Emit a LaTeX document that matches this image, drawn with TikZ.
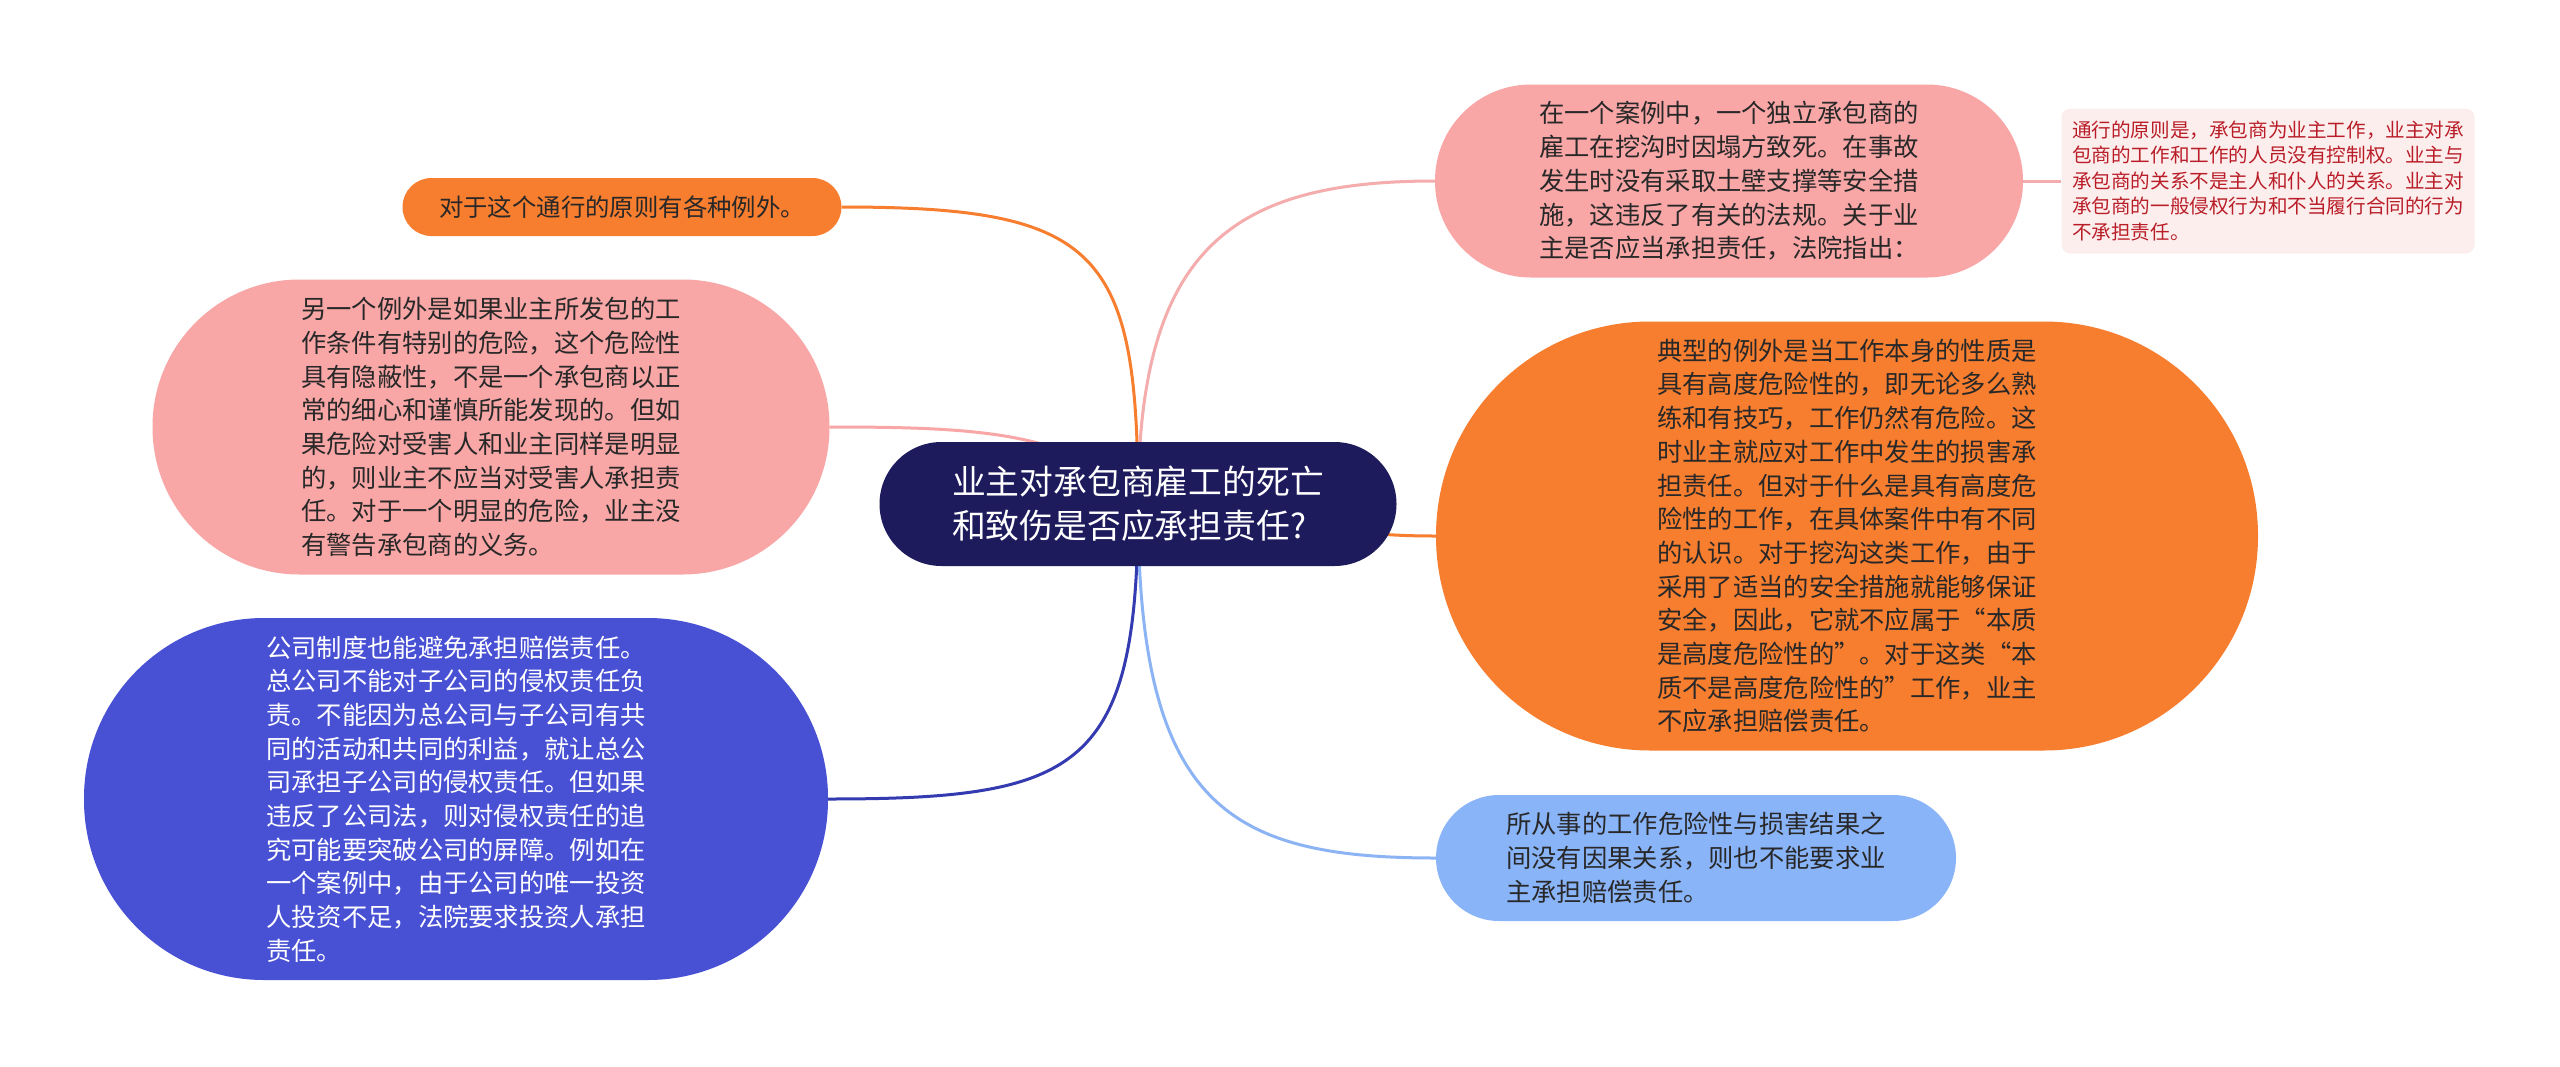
\documentclass[tikz,border=0pt]{standalone}
\usepackage{fontspec}
\setmainfont{Noto Sans CJK SC}
\usetikzlibrary{backgrounds}
\definecolor{rootc}{RGB}{29,27,92}
\definecolor{orangec}{RGB}{247,125,47}
\definecolor{pinkc}{RGB}{248,166,166}
\definecolor{pinkline}{RGB}{244,172,172}
\definecolor{indigoc}{RGB}{72,80,212}
\definecolor{indigoline}{RGB}{52,58,175}
\definecolor{lbluec}{RGB}{138,180,248}
\definecolor{lblueline}{RGB}{140,180,245}
\definecolor{notefill}{RGB}{253,238,238}
\definecolor{notetext}{RGB}{185,30,40}
\definecolor{txt}{RGB}{40,40,40}
\begin{document}
\begin{tikzpicture}[x=1pt,y=-1pt,
  box/.style={inner sep=0pt, align=left, text=txt},
  body/.style={font=\fontsize{25.3}{33.7}\selectfont},
  conn/.style={line width=3pt},
]
\useasboundingbox (0,0) rectangle (2560,1066);

% root
\node[box, fill=rootc, text=white, minimum width=517pt, minimum height=124pt,
      rounded corners=62pt, font=\fontsize{33.8}{44}\selectfont]
  (root) at (1138,504) {业主对承包商雇工的死亡\\和致伤是否应承担责任?};

% top-left orange
\node[box, fill=orangec, minimum width=439pt, minimum height=58pt,
      rounded corners=29pt, font=\fontsize{24.4}{32}\selectfont]
  (exc) at (622,207) {对于这个通行的原则有各种例外。};

% left pink
\node[box, body, fill=pinkc, minimum width=677pt, minimum height=295pt,
      rounded corners=147pt]
  (hidden) at (491,427) {另一个例外是如果业主所发包的工\\作条件有特别的危险，这个危险性\\具有隐蔽性，不是一个承包商以正\\常的细心和谨慎所能发现的。但如\\果危险对受害人和业主同样是明显\\的，则业主不应当对受害人承担责\\任。对于一个明显的危险，业主没\\有警告承包商的义务。};

% bottom-left indigo
\node[box, body, fill=indigoc, text=white, minimum width=744pt, minimum height=362pt,
      rounded corners=180pt]
  (company) at (456,799) {公司制度也能避免承担赔偿责任。\\总公司不能对子公司的侵权责任负\\责。不能因为总公司与子公司有共\\同的活动和共同的利益，就让总公\\司承担子公司的侵权责任。但如果\\违反了公司法，则对侵权责任的追\\究可能要突破公司的屏障。例如在\\一个案例中，由于公司的唯一投资\\人投资不足，法院要求投资人承担\\责任。};

% top-right pink
\node[box, body, fill=pinkc, minimum width=588pt, minimum height=193pt,
      rounded corners=96pt]
  (case) at (1729,181) {在一个案例中，一个独立承包商的\\雇工在挖沟时因塌方致死。在事故\\发生时没有采取土壁支撑等安全措\\施，这违反了有关的法规。关于业\\主是否应当承担责任，法院指出：};

% note
\node[box, fill=notefill, text=notetext, minimum width=413pt, minimum height=145pt,
      rounded corners=9pt, font=\fontsize{19.6}{25.5}\selectfont]
  (note) at (2268,181) {通行的原则是，承包商为业主工作，业主对承\\包商的工作和工作的人员没有控制权。业主与\\承包商的关系不是主人和仆人的关系。业主对\\承包商的一般侵权行为和不当履行合同的行为\\不承担责任。};

% big orange
\node[box, body, fill=orangec, minimum width=822pt, minimum height=429pt,
      rounded corners=214pt]
  (danger) at (1847,536) {典型的例外是当工作本身的性质是\\具有高度危险性的，即无论多么熟\\练和有技巧，工作仍然有危险。这\\时业主就应对工作中发生的损害承\\担责任。但对于什么是具有高度危\\险性的工作，在具体案件中有不同\\的认识。对于挖沟这类工作，由于\\采用了适当的安全措施就能够保证\\安全，因此，它就不应属于“本质\\是高度危险性的”。对于这类“本\\质不是高度危险性的”工作，业主\\不应承担赔偿责任。};

% bottom-right light blue
\node[box, body, fill=lbluec, minimum width=520pt, minimum height=126pt,
      rounded corners=63pt]
  (cause) at (1696,858) {所从事的工作危险性与损害结果之\\间没有因果关系，则也不能要求业\\主承担赔偿责任。};

\begin{scope}[on background layer]
\fill[white] (0,0) rectangle (2560,1066);
\draw[conn, orangec] (root.center) .. controls +(0,-254) and +(258,0) .. (exc.east);
\draw[conn, pinkc] (hidden.east) .. controls +(150,0) and +(-58,-72) .. (root.center);
\draw[conn, indigoline] (root.center) .. controls +(0,266) and +(252,0) .. (company.east);
\draw[conn, pinkline] (root.center) .. controls +(0,-254) and +(-205,0) .. (case.west);
\draw[conn, orangec] (root.center) .. controls +(200,0) and +(-150,0) .. (danger.west);
\draw[conn, lblueline] (root.center) .. controls +(0,300) and +(-210,0) .. (cause.west);
\draw[conn, pinkline] (case.east) -- (note.west);
\end{scope}
\end{tikzpicture}
\end{document}
